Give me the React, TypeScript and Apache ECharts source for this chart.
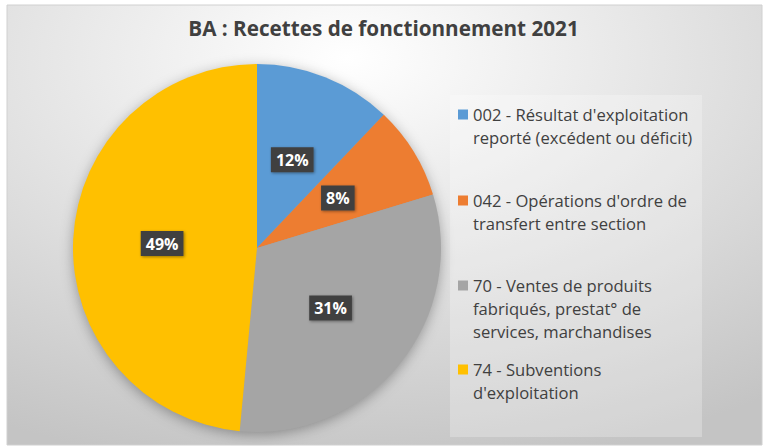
import React, { useEffect, useRef } from "react";
import * as echarts from "echarts";

const categories = [
  "002 - Résultat d'exploitation\nreporté (excédent ou déficit)",
  "042 - Opérations d'ordre de\ntransfert entre section",
  "70 - Ventes de produits\nfabriqués, prestat° de\nservices, marchandises",
  "74 - Subventions\nd'exploitation",
];
const values = [12.1, 8.2, 31.2, 48.5];
const colors = ["#5B9BD5", "#ED7D31", "#A5A5A5", "#FFC000"];
const title = "BA : Recettes de fonctionnement 2021";

const FONT = "'Open Sans', sans-serif";
const LINE_H = 23;
const legendTops = [103, 189, 274, 358];

export default function App() {
  const ref = useRef<HTMLDivElement>(null);
  useEffect(() => {
    if (!ref.current) return;
    const chart = echarts.init(ref.current, null, { renderer: "svg" });
    const legends = categories.map((name, i) => {
      const lines = name.split("\n").length;
      const h = lines * LINE_H;
      const top = (LINE_H - 10) / 2;
      return {
        data: [name],
        orient: "vertical",
        left: 458,
        top: legendTops[i],
        padding: 0,
        itemWidth: 10,
        itemHeight: h,
        icon: `path://M0,${top}L10,${top}L10,${top + 10}L0,${top + 10}Z M0,0L0,0.01 M0,${h}L0,${h - 0.01}`,
        itemStyle: { borderWidth: 0 },
        selectedMode: false,
        textStyle: {
          fontFamily: FONT,
          fontSize: 16.6,
          lineHeight: LINE_H,
          color: "#404040",
        },
      };
    });
    chart.setOption({
      animation: false,
      color: colors,
      title: {
        text: title,
        left: "center",
        top: 17,
        padding: 0,
        textStyle: { fontFamily: FONT, fontSize: 20.7, fontWeight: "bold", color: "#404040" },
      },
      legend: legends,
      graphic: [
        {
          type: "rect",
          z: -10,
          shape: { x: 7, y: 5, width: 755, height: 440 },
          style: {
            fill: new echarts.graphic.RadialGradient(0.45, 0.12, 0.95, [
              { offset: 0, color: "#ffffff" },
              { offset: 1, color: "#c4c4c4" },
            ]),
            stroke: "#d0d0d0",
            lineWidth: 1,
          },
          silent: true,
        },
        {
          type: "rect",
          z: -9,
          shape: { x: 450, y: 95, width: 252, height: 342 },
          style: { fill: "rgba(255,255,255,0.25)" },
          silent: true,
        },
        {
          type: "circle",
          z: -8,
          shape: { cx: 257, cy: 248, r: 183 },
          style: {
            fill: "#a0a0a0",
            shadowBlur: 14,
            shadowOffsetY: 3,
            shadowColor: "rgba(0,0,0,0.35)",
          },
          silent: true,
        },
      ],
      series: [
        {
          type: "pie",
          center: [257, 248],
          radius: [0, 184],
          startAngle: 90,
          clockwise: true,
          data: categories.map((n, i) => ({ name: n, value: values[i] })),
          itemStyle: { borderWidth: 0 },
          label: {
            show: true,
            position: "inside",
            formatter: (p: any) => Math.round(p.percent) + "%",
            fontFamily: FONT,
            fontSize: 16,
            fontWeight: "bold",
            color: "#ffffff",
            backgroundColor: "#404040",
            padding: [5, 5, 4, 5],
            shadowBlur: 3,
            shadowOffsetX: 1,
            shadowOffsetY: 1,
            shadowColor: "rgba(0,0,0,0.4)",
          },
          labelLine: { show: false },
          emphasis: { disabled: true },
        },
      ],
    });
    return () => chart.dispose();
  }, []);
  return (
    <div
      ref={ref}
      style={{ position: "absolute", left: 0, top: 0, width: 767, height: 446 }}
    />
  );
}
